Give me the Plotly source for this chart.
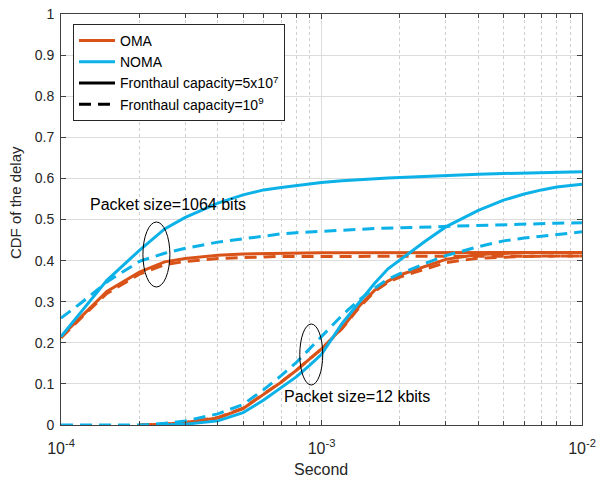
import plotly.graph_objects as go

# ---------------- data ----------------
# Packet size = 1064 bits
x_1064 = [1.0e-4, 1.2e-4, 1.5e-4, 2.0e-4, 2.5e-4, 3.0e-4, 4.0e-4, 5.0e-4, 6.0e-4, 7.0e-4,
          8.0e-4, 9.0e-4, 1.0e-3, 1.2e-3, 1.4e-3, 1.6e-3, 1.8e-3, 2.0e-3, 2.5e-3, 3.0e-3,
          4.0e-3, 5.0e-3, 6.0e-3, 7.0e-3, 8.0e-3, 1.0e-2]
noma_solid_1064 = [0.215, 0.277, 0.352, 0.425, 0.477, 0.505, 0.540, 0.560, 0.572, 0.578,
                   0.583, 0.587, 0.590, 0.594, 0.597, 0.599, 0.601, 0.602, 0.605, 0.607,
                   0.610, 0.612, 0.613, 0.614, 0.615, 0.616]
noma_dash_1064 = [0.260, 0.298, 0.348, 0.398, 0.418, 0.430, 0.445, 0.453, 0.460, 0.465,
                  0.468, 0.470, 0.472, 0.474, 0.476, 0.478, 0.479, 0.480, 0.482, 0.484,
                  0.486, 0.488, 0.489, 0.490, 0.491, 0.492]
oma_solid_1064 = [0.215, 0.265, 0.325, 0.372, 0.397, 0.405, 0.413, 0.416, 0.417, 0.418,
                  0.418, 0.419, 0.419, 0.419, 0.419, 0.420, 0.420, 0.420, 0.420, 0.420,
                  0.420, 0.420, 0.420, 0.420, 0.420, 0.420]
oma_dash_1064 = [0.212, 0.262, 0.320, 0.367, 0.390, 0.398, 0.405, 0.408, 0.409, 0.410,
                 0.410, 0.410, 0.411, 0.411, 0.411, 0.411, 0.411, 0.411, 0.411, 0.411,
                 0.411, 0.411, 0.411, 0.411, 0.411, 0.411]

# Packet size = 12 kbits
x_12k_oma = [2.0e-4, 2.5e-4, 3.0e-4, 4.0e-4, 5.0e-4, 6.0e-4, 7.0e-4, 8.0e-4, 9.0e-4, 1.0e-3,
             1.2e-3, 1.4e-3, 1.6e-3, 1.8e-3, 2.0e-3, 2.5e-3, 3.0e-3, 4.0e-3, 5.0e-3, 6.0e-3,
             7.0e-3, 8.0e-3, 1.0e-2]
oma_solid_12k = [0.000, 0.002, 0.006, 0.017, 0.040, 0.074, 0.104, 0.133, 0.160, 0.185,
                 0.236, 0.290, 0.328, 0.350, 0.365, 0.386, 0.403, 0.415, 0.418, 0.419,
                 0.420, 0.420, 0.420]
oma_dash_12k = [0.000, 0.002, 0.006, 0.018, 0.041, 0.075, 0.105, 0.133, 0.160, 0.185,
                0.235, 0.287, 0.325, 0.347, 0.360, 0.380, 0.395, 0.406, 0.409, 0.410,
                0.411, 0.411, 0.411]
x_12k_noma = [2.4e-4, 3.0e-4, 4.0e-4, 5.0e-4, 6.0e-4, 7.0e-4, 8.0e-4, 9.0e-4, 1.0e-3,
              1.2e-3, 1.4e-3, 1.6e-3, 1.8e-3, 2.0e-3, 2.5e-3, 3.0e-3, 4.0e-3, 5.0e-3, 6.0e-3,
              7.0e-3, 8.0e-3, 1.0e-2]
noma_solid_12k = [0.000, 0.002, 0.010, 0.030, 0.061, 0.090, 0.117, 0.145, 0.172,
                  0.247, 0.300, 0.345, 0.380, 0.402, 0.447, 0.482, 0.522, 0.547, 0.562,
                  0.572, 0.579, 0.586]
x_12k_noma_dash = [1.0e-4, 1.5e-4, 2.0e-4, 2.5e-4, 3.0e-4, 4.0e-4, 5.0e-4, 6.0e-4, 7.0e-4,
                   8.0e-4, 9.0e-4, 1.0e-3, 1.2e-3, 1.4e-3, 1.6e-3, 1.8e-3, 2.0e-3, 2.5e-3,
                   3.0e-3, 4.0e-3, 5.0e-3, 6.0e-3, 7.0e-3, 8.0e-3, 1.0e-2]
noma_dash_12k = [0.000, 0.000, 0.000, 0.004, 0.010, 0.027, 0.050, 0.086, 0.120,
                 0.152, 0.185, 0.215, 0.267, 0.305, 0.333, 0.355, 0.368, 0.393,
                 0.412, 0.434, 0.448, 0.455, 0.460, 0.464, 0.470]

x_tick_vals = [1e-4, 1e-3, 1e-2]
x_tick_text = ["10<sup>-4</sup>", "10<sup>-3</sup>", "10<sup>-2</sup>"]
y_tick_vals = [0, 0.1, 0.2, 0.3, 0.4, 0.5, 0.6, 0.7, 0.8, 0.9, 1]
y_tick_text = ["0", "0.1", "0.2", "0.3", "0.4", "0.5", "0.6", "0.7", "0.8", "0.9", "1"]

legend_names = ["OMA", "NOMA", "Fronthaul capacity=5x10<sup>7</sup>", "Fronthaul capacity=10<sup>9</sup>"]
x_label = "Second"
y_label = "CDF of the delay"
note_1064 = "Packet size=1064 bits"
note_12k = "Packet size=12 kbits"

# ---------------- style ----------------
ORANGE = "#D95319"
BLUE = "#0CB1E8"
LW = 3
DASH = "12px,7px"
FONT = "Arial, Liberation Sans, sans-serif"

fig = go.Figure()

def add(x, y, color, dashed):
    fig.add_trace(go.Scatter(x=x, y=y, mode="lines", showlegend=False, hoverinfo="skip",
                             line=dict(color=color, width=LW, dash=DASH if dashed else "solid")))

add(x_1064, oma_solid_1064, ORANGE, False)
add(x_1064, oma_dash_1064, ORANGE, True)
add(x_12k_oma, oma_solid_12k, ORANGE, False)
add(x_12k_oma, oma_dash_12k, ORANGE, True)
add(x_1064, noma_solid_1064, BLUE, False)
add(x_1064, noma_dash_1064, BLUE, True)
add(x_12k_noma, noma_solid_12k, BLUE, False)
add(x_12k_noma_dash, noma_dash_12k, BLUE, True)

# legend entries
for name, color, dash in [(legend_names[0], ORANGE, "solid"), (legend_names[1], BLUE, "solid"),
                          (legend_names[2], "black", "solid"), (legend_names[3], "black", DASH)]:
    fig.add_trace(go.Scatter(x=[None], y=[None], mode="lines", name=name,
                             line=dict(color=color, width=LW, dash=dash)))

minor_vals = [m * 10.0 ** e for e in (-4, -3) for m in range(2, 10)]

AX = "#404040"
L, R, T, B = 61, 582.5, 14, 425
W, H = 597, 481
fig.update_layout(
    width=W, height=H,
    margin=dict(l=L, r=W - R, t=T, b=H - B),
    paper_bgcolor="white", plot_bgcolor="white",
    font=dict(family=FONT, size=14, color="#262626"),
    showlegend=True,
    legend=dict(x=(73 - L) / (R - L), y=(B - 24) / (B - T), xanchor="left", yanchor="top",
                bgcolor="white", bordercolor="#262626", borderwidth=1,
                font=dict(family=FONT, size=14, color="black"),
                tracegroupgap=0, itemwidth=36),
    xaxis=dict(type="log", range=[-4, -2], tickmode="array",
               tickvals=x_tick_vals, ticktext=x_tick_text,
               tickfont=dict(size=16), ticklabelstandoff=9,
               showline=True, linecolor=AX, linewidth=1, mirror="ticks",
               ticks="inside", ticklen=5, tickcolor=AX,
               showgrid=True, gridcolor="#dcdcdc", gridwidth=1,
               minor=dict(tickmode="array", tickvals=minor_vals, ticks="inside", ticklen=4,
                          tickcolor=AX, showgrid=True, gridcolor="#cfcfcf", griddash="dot"),
               automargin=False, zeroline=False),
    yaxis=dict(range=[0, 1], tickmode="array", tickvals=y_tick_vals, ticktext=y_tick_text,
               tickfont=dict(size=14), ticklabelstandoff=3,
               showline=True, linecolor=AX, linewidth=1, mirror="ticks",
               ticks="inside", ticklen=5, tickcolor=AX,
               showgrid=True, gridcolor="#dcdcdc", gridwidth=1,
               automargin=False, zeroline=False),
)

def px2paper(px, py):
    return (px - L) / (R - L), (B - py) / (B - T)

# axis titles
xp, yp = px2paper(321, 469)
fig.add_annotation(text=x_label, xref="paper", yref="paper", x=xp, y=yp,
                   xanchor="center", yanchor="middle", showarrow=False,
                   font=dict(family=FONT, size=16, color="#262626"))
xp, yp = px2paper(15, 203)
fig.add_annotation(text=y_label, xref="paper", yref="paper", x=xp, y=yp, textangle=-90,
                   xanchor="center", yanchor="middle", showarrow=False,
                   font=dict(family=FONT, size=15, color="#262626"))

# ellipses (annotation marks)
for (l, t, r, b) in [(143, 222, 170, 287), (300, 324, 323, 385)]:
    x0, y0 = px2paper(l, b)
    x1, y1 = px2paper(r, t)
    fig.add_shape(type="circle", xref="paper", yref="paper", x0=x0, y0=y0, x1=x1, y1=y1,
                  line=dict(color="black", width=1))

for text, (cx, cy) in [(note_1064, (88, 204)), (note_12k, (282, 396))]:
    xp, yp = px2paper(cx, cy)
    fig.add_annotation(text=text, xref="paper", yref="paper", x=xp, y=yp,
                       xanchor="left", yanchor="middle", showarrow=False,
                       font=dict(family=FONT, size=16, color="black"))

fig.write_html("out.html")
